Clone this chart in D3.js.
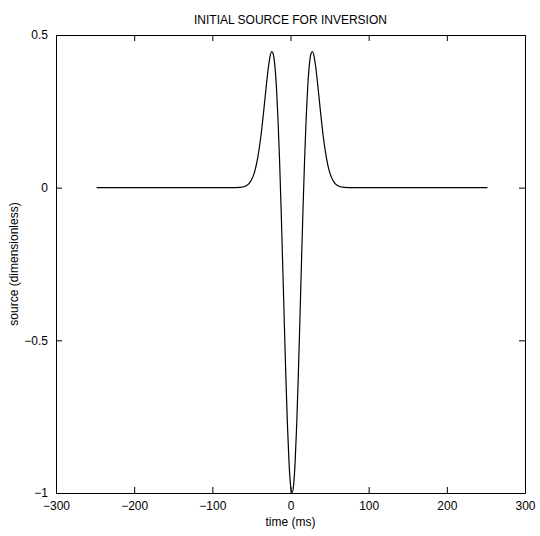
<!DOCTYPE html>
<html>
<head>
<meta charset="utf-8">
<script src="https://cdn.jsdelivr.net/npm/d3@7"></script>
<style>
  body { margin: 0; background: #fff; }
  svg { display: block; font-family: "Liberation Sans", Arial, sans-serif; }
</style>
</head>
<body>
<div id="chart"></div>
<script>
// values
const timeMs = [-248, -78, -64, -56, -50, -46, -42, -38, -34, -31, -28, -26, -24, -22, -20, -18, -16,
  -14, -12, -10, -8, -6, -4, -2, 0, 2, 4, 6, 8, 10, 12, 14, 16, 18, 20, 22, 24, 26, 28, 30, 32,
  35, 38, 42, 46, 50, 54, 60, 68, 82, 252];
const sourceVal = [0, 0, 0.001, 0.007, 0.025, 0.051, 0.097, 0.166, 0.258, 0.333, 0.400, 0.432, 0.446,
  0.437, 0.399, 0.329, 0.225, 0.090, -0.071, -0.250, -0.436, -0.614, -0.771, -0.894, -0.973, -1,
  -0.973, -0.894, -0.771, -0.614, -0.436, -0.250, -0.071, 0.090, 0.225, 0.329, 0.399, 0.437, 0.446,
  0.432, 0.400, 0.333, 0.258, 0.166, 0.097, 0.051, 0.025, 0.007, 0.001, 0, 0];
const xTicks = [-300, -200, -100, 0, 100, 200, 300];
const yTicks = [-1, -0.5, 0, 0.5];

const data = timeMs.map((t, i) => ({ t: t, v: sourceVal[i] }));

const width = 540, height = 536;
const margin = { top: 35, right: 15, bottom: 43, left: 56 };
const innerW = width - margin.left - margin.right;
const innerH = height - margin.top - margin.bottom;

const svg = d3.select("#chart").append("svg")
  .attr("width", width)
  .attr("height", height);

const g = svg.append("g")
  .attr("transform", `translate(${margin.left},${margin.top})`);

const x = d3.scaleLinear().domain([-300, 300]).range([0, innerW]);
const y = d3.scaleLinear().domain([-1, 0.5]).range([innerH, 0]);

const fmt = d => String(d).replace("-", "\u2212");

// box with inward ticks on all sides
g.append("g")
  .attr("transform", `translate(0,${innerH})`)
  .call(d3.axisBottom(x).tickValues(xTicks).tickSizeInner(-6).tickSizeOuter(0).tickPadding(8).tickFormat(fmt));
g.append("g")
  .call(d3.axisTop(x).tickValues(xTicks).tickSizeInner(-6).tickSizeOuter(0).tickFormat(""));
g.append("g")
  .call(d3.axisLeft(y).tickValues(yTicks).tickSizeInner(-6).tickSizeOuter(0).tickPadding(8).tickFormat(fmt));
g.append("g")
  .attr("transform", `translate(${innerW},0)`)
  .call(d3.axisRight(y).tickValues(yTicks).tickSizeInner(-6).tickSizeOuter(0).tickFormat(""));

g.selectAll(".domain").attr("stroke", "#000").attr("stroke-width", 1);
g.selectAll(".tick line").attr("stroke", "#000");
g.selectAll(".tick text")
  .attr("fill", "#000")
  .attr("font-size", "12px")
  .attr("font-family", "Liberation Sans, Arial, sans-serif");

// curve
const line = d3.line()
  .x(d => x(d.t))
  .y(d => y(d.v))
  .curve(d3.curveMonotoneX);

g.append("path")
  .datum(data)
  .attr("fill", "none")
  .attr("stroke", "#000")
  .attr("stroke-width", 1.2)
  .attr("d", line);

// titles
svg.append("text")
  .attr("x", margin.left + innerW / 2)
  .attr("y", 24)
  .attr("text-anchor", "middle")
  .attr("font-size", "12px")
  .text("INITIAL SOURCE FOR INVERSION");

svg.append("text")
  .attr("x", margin.left + innerW / 2)
  .attr("y", height - 10)
  .attr("text-anchor", "middle")
  .attr("font-size", "12px")
  .text("time (ms)");

svg.append("text")
  .attr("transform", "rotate(-90)")
  .attr("x", -(margin.top + innerH / 2))
  .attr("y", 18)
  .attr("text-anchor", "middle")
  .attr("font-size", "12px")
  .text("source (dimensionless)");
</script>
</body>
</html>
